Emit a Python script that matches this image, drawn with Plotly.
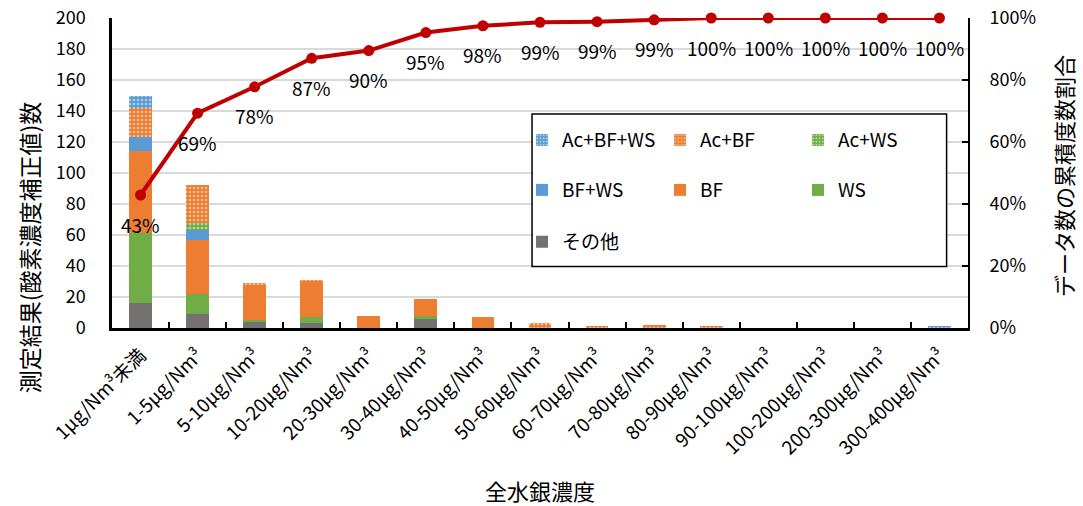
import plotly.graph_objects as go

# 全水銀濃度の区分
categories = [
    "1μg/Nm³未満", "1-5μg/Nm³", "5-10μg/Nm³", "10-20μg/Nm³", "20-30μg/Nm³",
    "30-40μg/Nm³", "40-50μg/Nm³", "50-60μg/Nm³", "60-70μg/Nm³", "70-80μg/Nm³",
    "80-90μg/Nm³", "90-100μg/Nm³", "100-200μg/Nm³", "200-300μg/Nm³", "300-400μg/Nm³",
]

# 測定結果数 (stack order bottom -> top)
other = [16, 9, 4, 3, 0, 6, 0, 0, 0, 0, 0, 0, 0, 0, 0]
ws = [45, 13, 1, 4, 0, 2, 0, 0, 0, 0, 0, 0, 0, 0, 0]
bf = [53, 35, 22, 22, 8, 11, 6, 0, 0, 0, 0, 0, 0, 0, 0]
bf_ws = [9, 6, 0, 0, 0, 0, 0, 0, 0, 0, 0, 0, 0, 0, 0]
ac_ws = [0, 5, 0, 0, 0, 0, 0, 0, 0, 0, 0, 0, 0, 0, 0]
ac_bf = [19, 24, 2, 2, 0, 0, 1, 3, 1, 2, 1, 0, 0, 0, 0]
ac_bf_ws = [8, 0, 0, 0, 0, 0, 0, 0, 0, 0, 0, 0, 0, 0, 1]

# 累積度数割合
cum_ratio = [0.429, 0.693, 0.778, 0.870, 0.895, 0.953, 0.975, 0.986, 0.988,
             0.994, 1.0, 1.0, 1.0, 1.0, 1.0]

FONT = "Noto Sans CJK JP"
GRAY = "#767171"
GREEN = "#70AD47"
ORANGE = "#ED7D31"
BLUE = "#5B9BD5"
RED = "#C00000"

fig = go.Figure()

series = [
    ("その他", other, GRAY, False, "legend3"),
    ("WS", ws, GREEN, False, "legend2"),
    ("BF", bf, ORANGE, False, "legend2"),
    ("BF+WS", bf_ws, BLUE, False, "legend2"),
    ("Ac+WS", ac_ws, GREEN, True, "legend"),
    ("Ac+BF", ac_bf, ORANGE, True, "legend"),
    ("Ac+BF+WS", ac_bf_ws, BLUE, True, "legend"),
]

for name, vals, col, dotted, leg in series:
    marker = dict(color=col, line=dict(width=0))
    if dotted:
        marker["pattern"] = dict(shape=".", fgcolor="white", size=4, solidity=0.35)
    fig.add_trace(go.Bar(x=categories, y=vals, name=name, marker=marker,
                         legend=leg, yaxis="y"))

fig.add_trace(go.Scatter(
    x=categories, y=cum_ratio, yaxis="y2", mode="lines+markers",
    line=dict(color=RED, width=4), marker=dict(size=11, color=RED),
    showlegend=False, cliponaxis=False,
))

# percentage labels under the points
for c, v in zip(categories, cum_ratio):
    fig.add_annotation(x=c, y=v, xref="x", yref="y2", text=f"{v:.0%}",
                       showarrow=False, yshift=-29,
                       font=dict(family=FONT, size=19, color="black"))

# axis titles
title_font = dict(family=FONT, size=22, color="black")
fig.add_annotation(x=-0.096, y=0.26, xref="paper", yref="paper",
                   xanchor="center", yanchor="middle",
                   text="測定結果(酸素濃度補正値)数", textangle=-90, showarrow=False,
                   font=dict(family=FONT, size=23, color="black"))
fig.add_annotation(x=1.111, y=0.49, xref="paper", yref="paper",
                   xanchor="center", yanchor="middle",
                   text="データ数の累積度数割合", textangle=-90, showarrow=False,
                   font=title_font)
fig.add_annotation(x=0.5, y=-0.523, xref="paper", yref="paper",
                   xanchor="center", yanchor="middle",
                   text="全水銀濃度", showarrow=False, font=title_font)

# legend frame
fig.add_shape(type="rect", xref="paper", yref="paper",
              x0=0.4907, x1=0.975, y0=0.198, y1=0.690,
              line=dict(color="black", width=1.5), fillcolor="white", layer="above")

leg_common = dict(orientation="h", xanchor="left", yanchor="middle",
                  bgcolor="rgba(0,0,0,0)", entrywidth=93, traceorder="reversed",
                  font=dict(family=FONT, size=19, color="black"))
fig.update_layout(
    legend=dict(x=0.479, y=0.606, **leg_common),
    legend2=dict(x=0.479, y=0.445, **leg_common),
    legend3=dict(x=0.479, y=0.278, **leg_common),
)

fig.update_layout(
    barmode="stack",
    bargap=0.6,
    width=1083,
    height=506,
    margin=dict(l=112, r=115, t=18, b=178),
    plot_bgcolor="white",
    paper_bgcolor="white",
    font=dict(family=FONT, size=18, color="black"),
    xaxis=dict(
        type="category", range=[-0.5, len(categories) - 0.5], automargin=False,
        tickangle=-45, ticks="inside", ticklen=6, tickwidth=2,
        tickcolor="black", tickson="boundaries", showgrid=False,
        showline=True, linecolor="black", linewidth=2.5, ticklabelstandoff=6,
        tickfont=dict(family=FONT, size=19, color="black"),
    ),
    yaxis=dict(
        range=[0, 200], dtick=20, showgrid=True, gridcolor="#D9D9D9", gridwidth=1.5,
        showline=True, linecolor="black", linewidth=2.5, zeroline=False,
        ticks="", ticklabelstandoff=20, automargin=False,
        tickfont=dict(family=FONT, size=18, color="black"),
    ),
    yaxis2=dict(
        range=[0, 1], dtick=0.2, tickformat=".0%", overlaying="y", side="right",
        showgrid=False, showline=True, linecolor="black", linewidth=2,
        ticks="inside", ticklen=6, tickwidth=2, tickcolor="black",
        ticklabelstandoff=16, zeroline=False, automargin=False,
        tickfont=dict(family=FONT, size=18, color="black"),
    ),
)

# drop the browser's default 8px body margin so the figure sits at the page corner
fig.write_html("out.html", config={"displayModeBar": False},
               post_script="document.body.style.margin = '0';")
